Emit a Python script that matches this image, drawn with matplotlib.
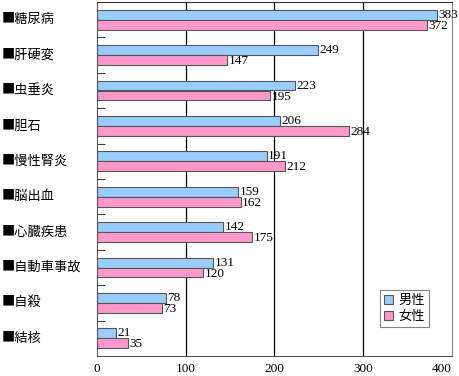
import numpy as np
import matplotlib
matplotlib.use("Agg")
import matplotlib.pyplot as plt
from matplotlib import transforms

plt.rcParams['font.family'] = ['Noto Sans CJK JP', 'DejaVu Sans']

categories = ['糖尿病', '肝硬変', '虫垂炎', '胆石', '慢性腎炎', '脳出血', '心臓疾患', '自動車事故', '自殺', '結核']
male = [383, 249, 223, 206, 191, 159, 142, 131, 78, 21]
female = [372, 147, 195, 284, 212, 162, 175, 120, 73, 35]
xticks = [0, 100, 200, 300, 400]

fig = plt.figure(figsize=(4.6, 3.76), dpi=100)
ax = fig.add_axes([97 / 460, 20 / 376, 355 / 460, 354 / 376])

y = np.arange(len(categories))
h = 0.28
ax.barh(y - h / 2, male, height=h, color='#99ccff', edgecolor='#555555', linewidth=0.8, label='男性')
ax.barh(y + h / 2, female, height=h, color='#ff99cc', edgecolor='#555555', linewidth=0.8, label='女性')

num_font = dict(family='Liberation Serif', fontsize=9.5)
for i in range(len(categories)):
    ax.text(male[i] + 1.5, y[i] - h / 2, str(male[i]), va='center', ha='left', **num_font)
    ax.text(female[i] + 1.5, y[i] + h / 2 + 0.03, str(female[i]), va='center', ha='left', **num_font)

ax.set_xlim(0, 400)
ax.set_ylim(len(categories) - 0.5, -0.5)

for v in xticks[1:-1]:
    ax.axvline(v, color='black', linewidth=0.9, zorder=0)

ax.set_xticks(xticks)
ax.set_xticklabels([str(v) for v in xticks], **num_font)
ax.tick_params(axis='x', length=0, pad=5)
ax.get_xticklabels()[-1].set_horizontalalignment('right')

ax.set_yticks(y)
ax.set_yticklabels([])
ax.tick_params(axis='y', which='major', length=0)
ax.set_yticks(y[:-1] + 0.5, minor=True)
ax.tick_params(axis='y', which='minor', direction='in', length=6, width=0.8, color='#444444')

trans = transforms.blended_transform_factory(fig.transFigure, ax.transData)
for i, c in enumerate(categories):
    ax.text(2 / 460, y[i], '■' + c, transform=trans, ha='left', va='center', fontsize=9.5)

ax.spines['left'].set_color('#555555')
ax.spines['bottom'].set_color('#555555')
ax.spines['top'].set_linestyle((0, (2, 1)))
ax.spines['top'].set_color('#333333')
ax.spines['right'].set_linestyle((0, (2, 1)))
ax.spines['right'].set_color('#888888')

leg = ax.legend(loc='lower right', bbox_to_anchor=(0.935, 0.082), fontsize=9.5, frameon=True,
                fancybox=False, handlelength=0.7, handleheight=0.7, handletextpad=0.4,
                borderpad=0.3, labelspacing=0.2, borderaxespad=0)
leg.get_frame().set_edgecolor('#666666')
leg.get_frame().set_linewidth(0.8)

fig.savefig('out.png', dpi=100)
